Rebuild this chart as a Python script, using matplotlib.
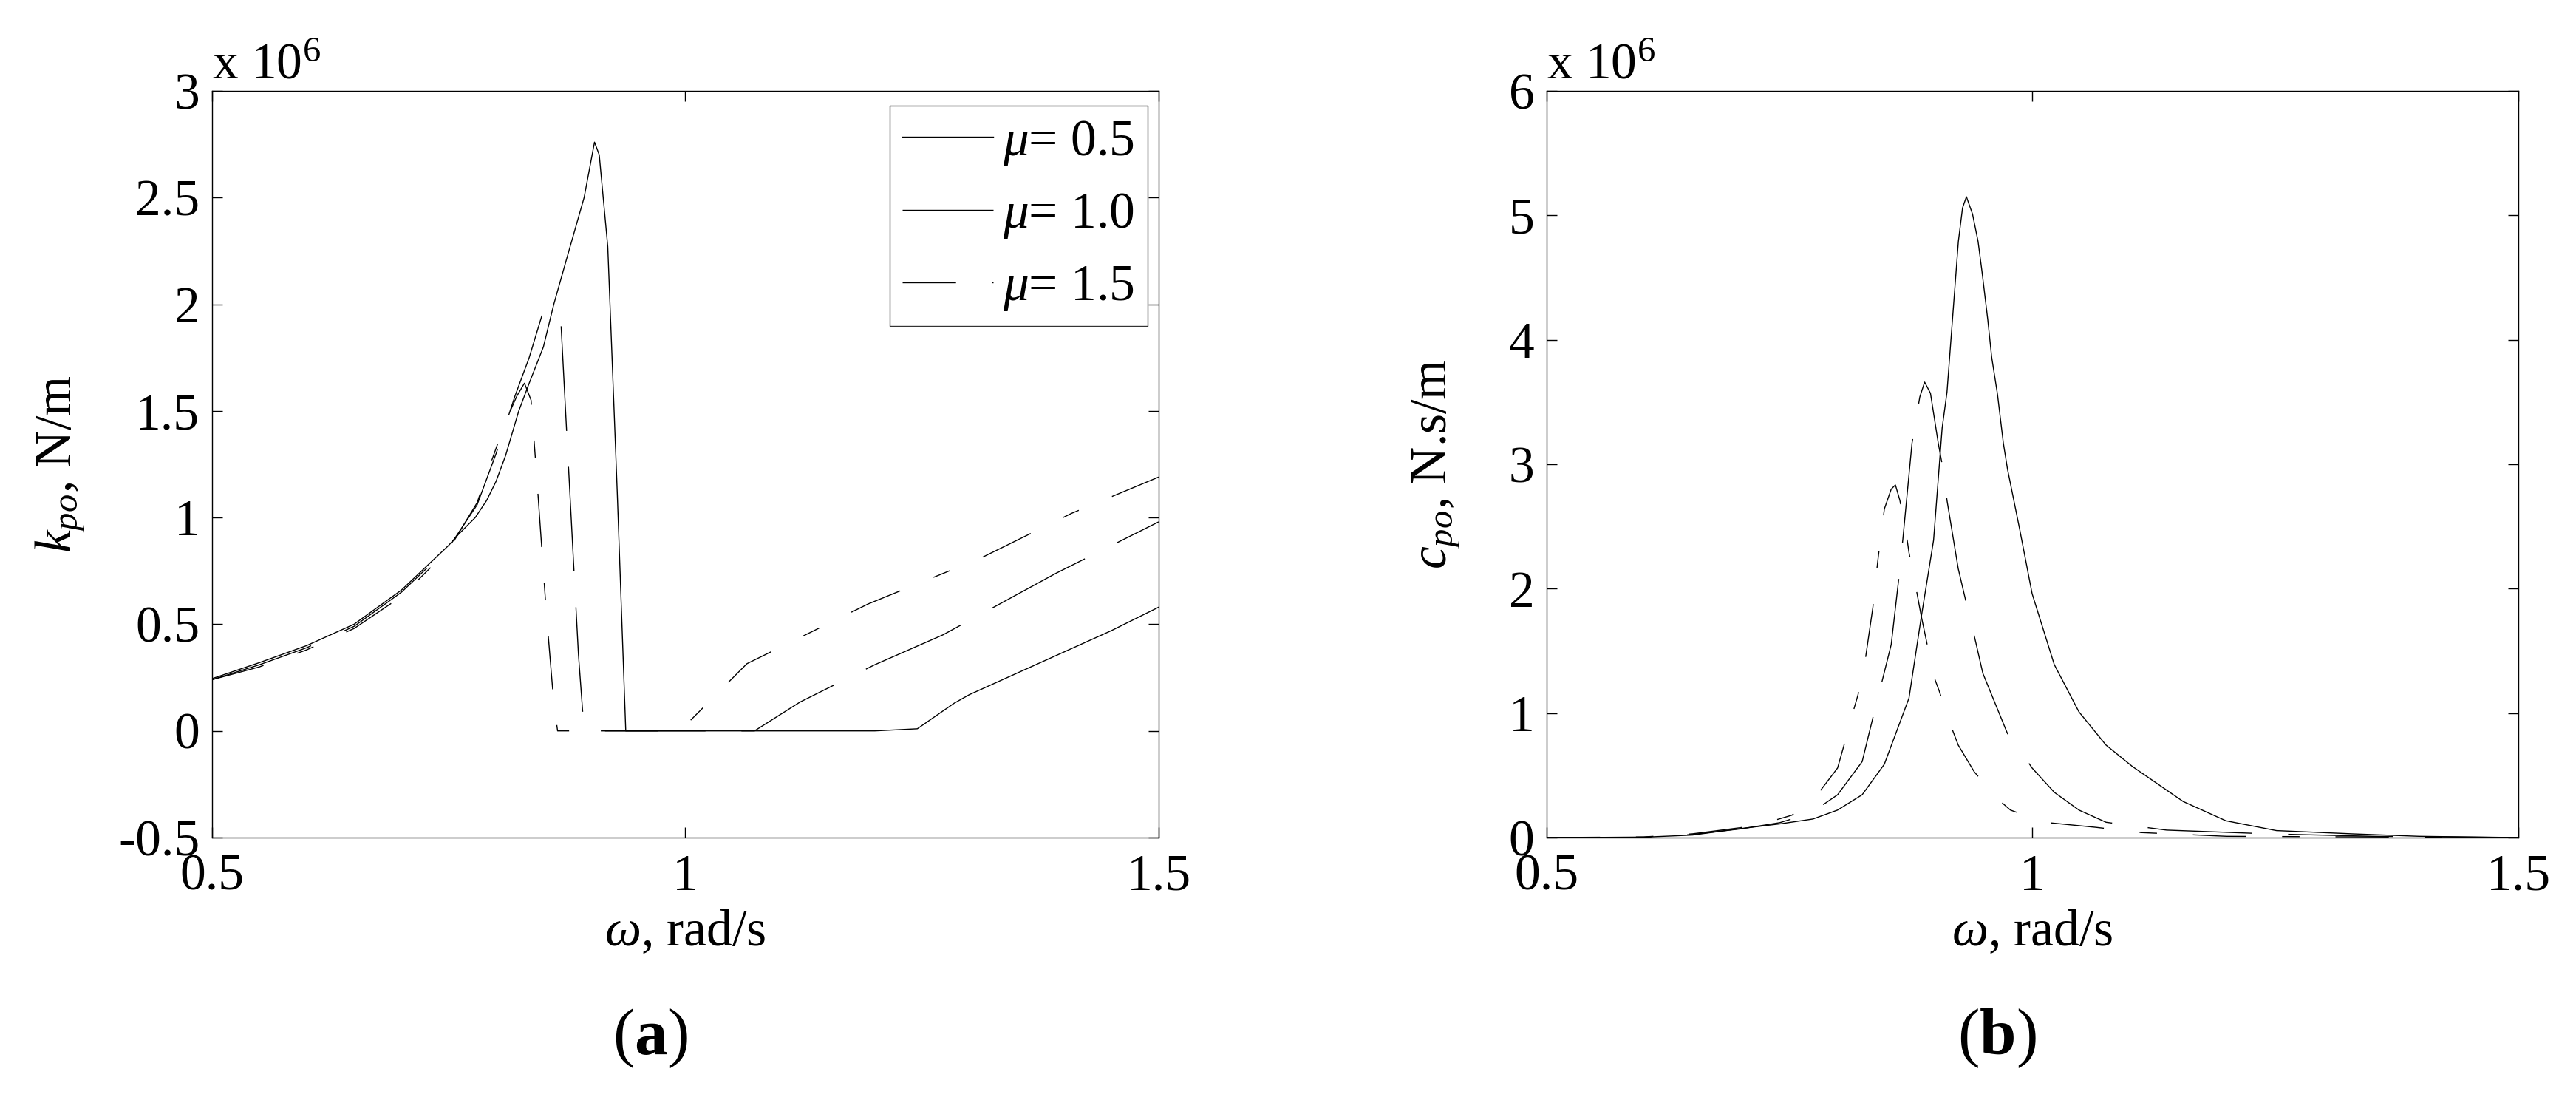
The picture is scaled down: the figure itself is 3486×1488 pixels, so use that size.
import matplotlib
matplotlib.use("Agg")
from matplotlib import pyplot as plt

# (a) stiffness k_po [x 1e6 N/m] vs omega [rad/s]
k_w05 = [0.50, 0.55, 0.60, 0.65, 0.70, 0.75, 0.76, 0.778, 0.79, 0.80, 0.81, 0.824, 0.835, 0.85, 0.861,
         0.875, 0.893, 0.904, 0.909, 0.918, 0.928, 0.937, 1.00, 1.10, 1.20, 1.245, 1.284, 1.30, 1.35,
         1.40, 1.45, 1.50]
k_05 = [0.245, 0.32, 0.40, 0.50, 0.66, 0.87, 0.92, 1.00, 1.08, 1.17, 1.29, 1.50, 1.63, 1.80, 2.00,
        2.22, 2.50, 2.76, 2.70, 2.27, 1.12, 0.0, 0.0, 0.0, 0.0, 0.01, 0.13, 0.17, 0.27,
        0.37, 0.47, 0.58]
k_w10 = [0.50, 0.55, 0.60, 0.65, 0.70, 0.75, 0.78, 0.80, 0.82, 0.835, 0.85, 0.868, 0.874, 0.881,
         0.887, 0.893, 1.00, 1.073, 1.121, 1.20, 1.272, 1.392, 1.50]
k_10 = [0.24, 0.31, 0.39, 0.49, 0.65, 0.86, 1.06, 1.30, 1.57, 1.75, 1.97, 1.96, 1.45, 0.86,
        0.36, 0.0, 0.0, 0.0, 0.135, 0.31, 0.45, 0.74, 0.98]
k_w15 = [0.50, 0.55, 0.60, 0.65, 0.70, 0.75, 0.78, 0.794, 0.81, 0.822, 0.830, 0.837, 0.843, 0.853,
         0.861, 0.865, 0.99, 1.001, 1.065, 1.193, 1.312, 1.408, 1.50]
k_15 = [0.24, 0.30, 0.38, 0.48, 0.63, 0.85, 1.07, 1.25, 1.45, 1.57, 1.63, 1.55, 1.19, 0.56,
        0.13, 0.0, 0.0, 0.03, 0.315, 0.595, 0.81, 1.02, 1.19]

# (b) damping c_po [x 1e6 N.s/m] vs omega [rad/s]
c_w05 = [0.50, 0.60, 0.65, 0.6954, 0.74, 0.774, 0.7994, 0.8247, 0.8475, 0.8729, 0.8856, 0.8982, 0.907,
         0.912, 0.918, 0.9237, 0.928, 0.932, 0.9383, 0.944, 0.948, 0.954, 0.958, 0.964, 0.970, 0.9743,
         0.987, 0.9996, 1.0224, 1.0478, 1.0757, 1.103, 1.155, 1.199, 1.251, 1.329, 1.398, 1.50]
c_05 = [0.0, 0.003, 0.02, 0.068, 0.11, 0.149, 0.221, 0.344, 0.589, 1.121, 1.776, 2.39, 3.29,
        3.58, 4.20, 4.79, 5.06, 5.15, 5.01, 4.79, 4.55, 4.16, 3.86, 3.56, 3.17, 2.96,
        2.47, 1.96, 1.39, 1.01, 0.743, 0.57, 0.29, 0.135, 0.056, 0.03, 0.01, 0.0]
c_w10 = [0.50, 0.60, 0.65, 0.70, 0.74, 0.765, 0.786, 0.7994, 0.8247, 0.8369, 0.8458, 0.8546, 0.8628,
         0.8666, 0.876, 0.884, 0.889, 0.895, 0.903, 0.907, 0.912, 0.9236, 0.932, 0.941, 0.9489, 0.9743,
         0.9786, 0.9996, 1.0224, 1.0478, 1.0757, 1.138, 1.242, 1.35, 1.50]
c_10 = [0.0, 0.003, 0.025, 0.07, 0.12, 0.18, 0.272, 0.344, 0.61, 1.0, 1.275, 1.551, 2.11,
        2.40, 3.17, 3.54, 3.66, 3.57, 3.17, 3.0, 2.71, 2.16, 1.88, 1.59, 1.32, 0.835,
        0.80, 0.559, 0.364, 0.221, 0.123, 0.06, 0.03, 0.01, 0.0]
c_w15 = [0.50, 0.60, 0.65, 0.70, 0.7347, 0.7525, 0.7804, 0.7994, 0.8057, 0.8153, 0.8204, 0.8278, 0.8357,
         0.8395, 0.8415, 0.8462, 0.8475, 0.8546, 0.8589, 0.8635, 0.8703, 0.8729, 0.880, 0.8856, 0.8906,
         0.8977, 0.9039, 0.9156, 0.9236, 0.9401, 0.9637, 0.9773, 1.0123, 1.0655, 1.112, 1.20, 1.50]
c_15 = [0.0, 0.005, 0.03, 0.08, 0.139, 0.18, 0.364, 0.559, 0.733, 1.009, 1.146, 1.424, 1.848,
        2.134, 2.27, 2.55, 2.64, 2.80, 2.834, 2.71, 2.43, 2.29, 2.01, 1.776, 1.59,
        1.31, 1.18, 0.906, 0.743, 0.528, 0.313, 0.221, 0.123, 0.082, 0.04, 0.01, 0.0]

labels = [r"$\mu$= 0.5", r"$\mu$= 1.0", r"$\mu$= 1.5"]
k_yticks = [-0.5, 0, 0.5, 1, 1.5, 2, 2.5, 3]
k_yticklabels = ["-0.5", "0", "0.5", "1", "1.5", "2", "2.5", "3"]
c_yticks = [0, 1, 2, 3, 4, 5, 6]
xticks = [0.5, 1, 1.5]
xticklabels = ["0.5", "1", "1.5"]

plt.rcParams["font.family"] = ["Liberation Serif", "DejaVu Serif"]
plt.rcParams["mathtext.fontset"] = "custom"
plt.rcParams["mathtext.rm"] = "Liberation Serif"
plt.rcParams["mathtext.it"] = "Liberation Serif:italic"
plt.rcParams["mathtext.bf"] = "Liberation Serif:bold"
plt.rcParams["lines.scale_dashes"] = False

FS = 50
W, H = 3487, 1488
fig = plt.figure(figsize=(W / 100, H / 100), dpi=100)
ax1 = fig.add_axes([287 / W, 1 - 1133 / H, (1568 - 287) / W, (1133 - 123) / H])
ax2 = fig.add_axes([2093 / W, 1 - 1133 / H, (3408 - 2093) / W, (1133 - 123) / H])

styles = ["-", (0, (102, 35)), (0, (52, 35, 17, 35))]
lw = 1.0

for w, v, ls, lab in zip([k_w05, k_w10, k_w15], [k_05, k_10, k_15], styles, labels):
    ax1.plot(w, v, color="black", lw=lw, linestyle=ls, label=lab)
for w, v, ls in zip([c_w05, c_w10, c_w15], [c_05, c_10, c_15], styles):
    ax2.plot(w, v, color="black", lw=lw, linestyle=ls)

for ax in (ax1, ax2):
    ax.set_xlim(0.5, 1.5)
    ax.set_xticks(xticks)
    ax.set_xticklabels(xticklabels)
    ax.tick_params(direction="in", length=10, width=1.0, top=True, right=True, labelsize=FS)
    ax.tick_params(axis="x", pad=16)
    ax.tick_params(axis="y", pad=12)
    for s in ax.spines.values():
        s.set_linewidth(1.0)
    ax.set_xlabel(r"$\omega$, rad/s", fontsize=FS, labelpad=8)
    ax.text(0, 1.016, r"x 10$^{6}$", transform=ax.transAxes, fontsize=FS, ha="left", va="baseline")

ax1.set_ylim(-0.5, 3)
ax1.set_yticks(k_yticks)
ax1.set_yticklabels(k_yticklabels)
ax1.set_ylabel(r"$k_{po}$, N/m", fontsize=FS, labelpad=30)

ax2.set_ylim(0, 6)
ax2.set_yticks(c_yticks)
ax2.set_ylabel(r"$c_{po}$, N.s/m", fontsize=FS, labelpad=45)

leg = ax1.legend(loc="upper right", bbox_to_anchor=(0.988, 0.980), fontsize=FS, frameon=True,
                 fancybox=False, edgecolor="black", handlelength=1.76, handletextpad=0.2,
                 borderpad=0.25, labelspacing=0.47, borderaxespad=0)
leg.get_frame().set_linewidth(1.0)

fig.text(880 / W, 1 - 1405 / H, r"($\mathbf{a}$)", fontsize=64, ha="center", va="center")
fig.text(2702 / W, 1 - 1405 / H, r"($\mathbf{b}$)", fontsize=64, ha="center", va="center")

fig.savefig("out.png", dpi=100, facecolor="white")
